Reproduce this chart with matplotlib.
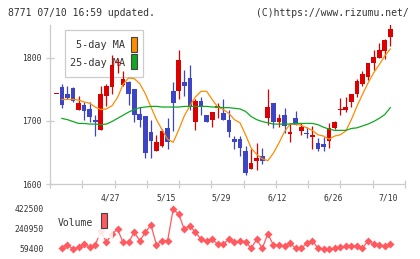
import matplotlib
matplotlib.use('Agg')
import matplotlib.pyplot as plt
import matplotlib.transforms as mtransforms
from matplotlib.patches import Rectangle
import numpy as np

# daily candles, 4/13 .. 7/10 (61 trading days)
opens = [1743, 1753, 1743, 1752, 1718, 1726, 1719, 1702, 1685, 1739,
         1753, 1791, 1757, 1762, 1750, 1711, 1707, 1683, 1652, 1660,
         1689, 1747, 1747, 1762, 1768, 1699, 1732, 1710, 1701, 1721,
         1712, 1701, 1672, 1672, 1653, 1624, 1636, 1644, 1704, 1728,
         1699, 1710, 1680, 1705, 1684, 1680, 1674, 1665, 1664, 1668,
         1688, 1718, 1718, 1730, 1742, 1758, 1770, 1791, 1800, 1811, 1833]
closes = [1743, 1726, 1737, 1731, 1728, 1715, 1706, 1698, 1742, 1756,
          1789, 1792, 1766, 1743, 1710, 1702, 1649, 1668, 1666, 1684,
          1667, 1728, 1796, 1755, 1723, 1732, 1722, 1699, 1714, 1724,
          1702, 1682, 1666, 1657, 1617, 1633, 1642, 1636, 1722, 1699,
          1705, 1692, 1683, 1693, 1690, 1679, 1678, 1656, 1658, 1689,
          1699, 1719, 1722, 1743, 1764, 1775, 1791, 1801, 1812, 1828, 1845]
highs = [1743, 1758, 1756, 1754, 1740, 1730, 1730, 1710, 1755, 1759,
         1804, 1798, 1779, 1763, 1750, 1722, 1708, 1701, 1678, 1687,
         1704, 1761, 1813, 1781, 1789, 1735, 1738, 1710, 1714, 1729,
         1734, 1718, 1676, 1676, 1660, 1656, 1665, 1657, 1750, 1728,
         1711, 1720, 1697, 1715, 1697, 1690, 1692, 1673, 1675, 1696,
         1700, 1737, 1738, 1743, 1766, 1779, 1791, 1812, 1823, 1830, 1853]
lows = [1743, 1721, 1734, 1730, 1718, 1701, 1699, 1676, 1685, 1723,
        1743, 1776, 1755, 1726, 1699, 1690, 1641, 1641, 1652, 1658,
        1656, 1684, 1734, 1739, 1718, 1685, 1709, 1699, 1690, 1704,
        1702, 1674, 1655, 1644, 1614, 1624, 1622, 1631, 1693, 1689,
        1690, 1681, 1667, 1693, 1677, 1673, 1655, 1653, 1653, 1657,
        1687, 1710, 1714, 1722, 1738, 1756, 1765, 1780, 1800, 1798, 1819]

nan = np.nan
ma5 = [nan, 1734, 1734, 1734, 1733, 1730, 1728, 1722, 1718, 1719,
       1724, 1737, 1758, 1768, 1767, 1759, 1743, 1722, 1702, 1686,
       1671, 1666, 1686, 1708, 1724, 1738, 1747, 1747, 1734, 1722,
       1718, 1712, 1702, 1697, 1678, 1657, 1647, 1640, 1637, 1649,
       1665, 1683, 1695, 1695, 1693, 1689, 1685, 1678, 1676, 1671,
       1676, 1678, 1684, 1702, 1723, 1742, 1760, 1776, 1789, 1803, 1814]
ma25 = [nan, 1704, 1702, 1699, 1696, 1696, 1695, 1695, 1694, 1695,
        1699, 1704, 1709, 1714, 1718, 1721, 1722, 1723, 1723, 1722,
        1722, 1722, 1722, 1723, 1723, 1723, 1723, 1723, 1722, 1722,
        1721, 1721, 1720, 1719, 1715, 1707, 1702, 1699, 1697, 1695,
        1695, 1695, 1695, 1696, 1696, 1696, 1696, 1694, 1690, 1687,
        1685, 1685, 1685, 1688, 1689, 1692, 1695, 1699, 1704, 1710, 1721]

volume = [nan, 65800, 95700, 59400, 74800, 104800, 74800, 95700, 222800, 120200,
          195600, 238000, 120200, 120200, 211000, 134700, 211000, 277000, 95700, 134700,
          134700, 422500, 374400, 238200, 268200, 211000, 147500, 132000, 147500, 102000,
          104800, 147500, 120200, 134700, 125700, 65800, 147500, 65800, 195600, 95700,
          95700, 86600, 111000, 65800, 65800, 111000, 134700, 65800, 59400, 59400,
          65800, 74800, 86600, 86600, 86600, 65800, 134700, 104800, 95700, 86600, 104800]

date_labels = ['4/27', '5/15', '5/29', '6/12', '6/26', '7/10']
date_idx = [10, 20, 30, 40, 50, 60]
price_ticks = [1600, 1700, 1800]
vol_ticks = [59400, 240950, 422500]

RED = '#dd0000'
BLUE = '#3d45c4'
ORANGE = '#ff8c00'
GREEN = '#10a820'
PINK = '#ff5a5f'
GRID = '#cccccc'
TXT = '#333333'
MONO = 'DejaVu Sans Mono'

W, H = 420, 259
fig = plt.figure(figsize=(4.2, 2.59), dpi=100)


def fx(px):
    return px / W


def fy(py):
    return 1 - py / H


ax = fig.add_axes([fx(50), fy(184), fx(405) - fx(50), fy(25) - fy(184)])
axv = fig.add_axes([fx(50), fy(255), fx(405) - fx(50), fy(203) - fy(255)])

x = np.arange(len(opens))
o = np.array(opens, float)
c = np.array(closes, float)
cols = np.where(c >= o, RED, BLUE)
xlim = (-1.13, 62.64)

# candles
ax.vlines(x, lows, highs, colors=cols, linewidth=0.9, zorder=2)
body = np.maximum(np.abs(c - o), 1.6)
ax.bar(x, body, bottom=np.minimum(o, c), width=0.84, color=cols, linewidth=0, zorder=3)
ax.plot(x, ma5, color=ORANGE, lw=0.9, zorder=4)
ax.plot(x, ma25, color=GREEN, lw=0.9, zorder=4)

ax.set_xlim(*xlim)
ax.set_ylim(1600, 1852)
for s in ['top', 'right']:
    ax.spines[s].set_visible(False)
for s in ['left', 'bottom']:
    ax.spines[s].set_color(GRID)
    ax.spines[s].set_linewidth(0.9)
ax.set_yticks(price_ticks)
ax.set_xticks(np.linspace(xlim[0], xlim[1], 12))
ax.set_xticklabels([])
ax.tick_params(axis='both', direction='inout', length=6, width=0.9, color=GRID,
               labelcolor=TXT, labelsize=5.8, pad=3)
for lab in ax.get_yticklabels():
    lab.set_family(MONO)

# legend (sits under the candles)
ft = fig.transFigure
ax.add_patch(Rectangle((fx(65), fy(76.7)), fx(143.3) - fx(65), fy(30) - fy(76.7),
                       transform=ft, fc='white', ec=GRID, lw=0.9, zorder=1, clip_on=False))
ax.text(fx(125), fy(45.5), '5-day MA', transform=ft, ha='right', va='center',
        family=MONO, fontsize=7.3, color=TXT, zorder=1.5)
ax.text(fx(125), fy(62.5), '25-day MA', transform=ft, ha='right', va='center',
        family=MONO, fontsize=7.3, color=TXT, zorder=1.5)
ax.add_patch(Rectangle((fx(131), fy(51.7)), fx(137.3) - fx(131), fy(36.7) - fy(51.7),
                       transform=ft, fc=ORANGE, ec='#444444', lw=0.8, zorder=1.5, clip_on=False))
ax.add_patch(Rectangle((fx(131), fy(69.3)), fx(137.3) - fx(131), fy(54) - fy(69.3),
                       transform=ft, fc=GREEN, ec='#444444', lw=0.8, zorder=1.5, clip_on=False))

# date labels between the panels
tr = mtransforms.blended_transform_factory(ax.transData, fig.transFigure)
for i, lab in zip(date_idx, date_labels):
    ax.text(i - 0.3, fy(198), lab, transform=tr, ha='center', va='center',
            family=MONO, fontsize=5.8, color=TXT, clip_on=False)

# volume panel
axv.plot(x, volume, color=PINK, lw=0.9, marker='D', ms=4.2, mec='none', zorder=2)
axv.set_xlim(*xlim)
axv.set_ylim(59400 - 6 * 9077.5, 422500 + 6 * 9077.5)
axv.set_yticks(vol_ticks)
axv.set_yticklabels([str(v) for v in vol_ticks])
axv.set_xticks([])
for s in axv.spines.values():
    s.set_visible(False)
axv.tick_params(axis='y', length=0, labelcolor=TXT, labelsize=5.8, pad=4.5)
for lab in axv.get_yticklabels():
    lab.set_family(MONO)
axv.add_patch(Rectangle((fx(55), fy(237.5)), fx(113) - fx(55), fy(211) - fy(237.5),
                        transform=ft, fc='white', ec='none', alpha=0.85, zorder=5, clip_on=False))
axv.text(fx(58), fy(222.5), 'Volume', transform=ft, ha='left', va='center',
         family=MONO, fontsize=7.0, color=TXT, zorder=6)
axv.add_patch(Rectangle((fx(101), fy(228.3)), fx(107.3) - fx(101), fy(213.3) - fy(228.3),
                        transform=ft, fc=PINK, ec='#444444', lw=0.8, zorder=6, clip_on=False))

fig.text(fx(8), fy(12.5), '8771 07/10 16:59 updated.', ha='left', va='center',
         family=MONO, fontsize=7.0, color=TXT)
fig.text(fx(409), fy(12.5), '(C)https://www.rizumu.net/', ha='right', va='center',
         family=MONO, fontsize=7.0, color=TXT)

fig.savefig('out.png', dpi=100, facecolor='white')
